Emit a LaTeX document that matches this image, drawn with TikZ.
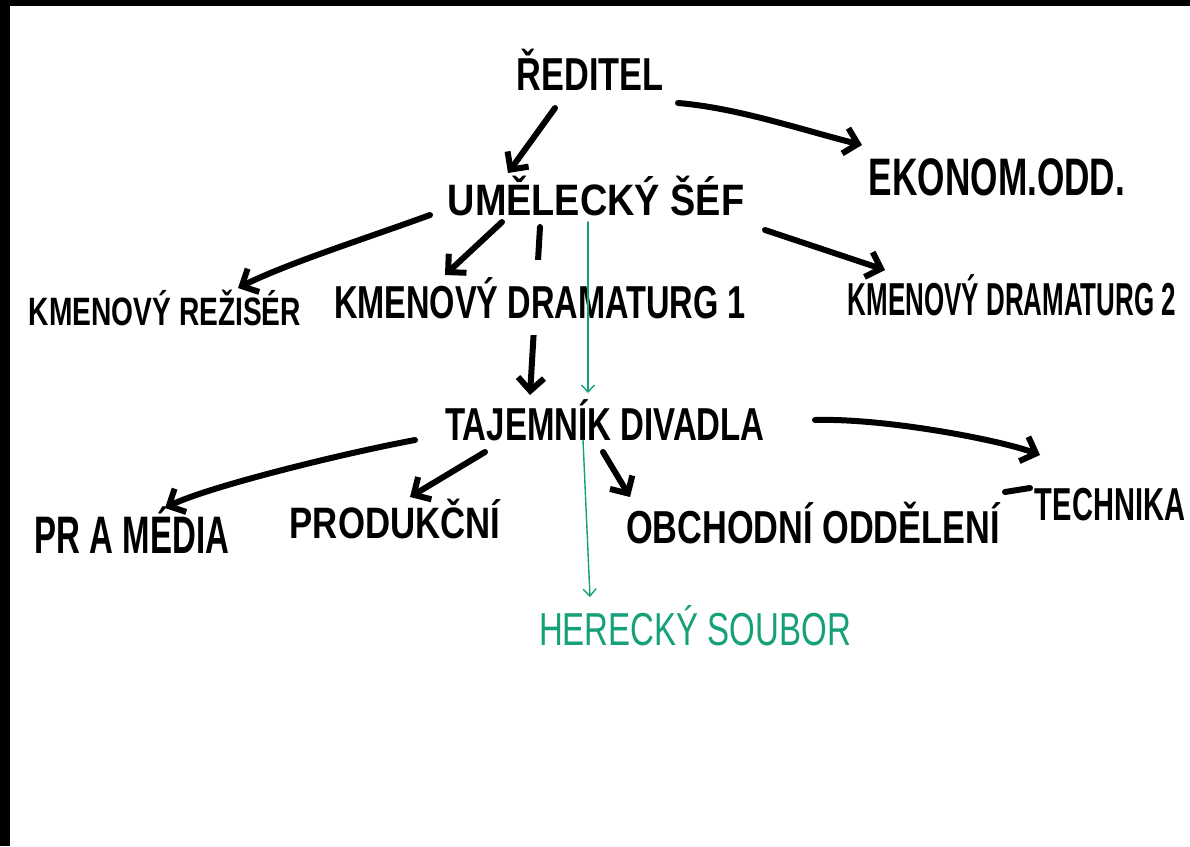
\documentclass[tikz,border=0pt]{standalone}
\usepackage{fontspec}
\setmainfont{Liberation Sans}
\usetikzlibrary{arrows.meta}
\definecolor{pen}{RGB}{22,160,122}
\newcommand\hw[3]{\scalebox{#1}[#2]{#3}}
\tikzset{
  lbl/.style={anchor=base, inner sep=0pt, font=\fontsize{44}{50}\selectfont\bfseries},
  glbl/.style={anchor=base, inner sep=0pt, text=pen, font=\fontsize{44}{50}\selectfont},
  conn/.style={line width=6pt, line cap=round, line join=round,
    -{Straight Barb[length=13pt,width=26pt,line width=6pt]}},
  gconn/.style={draw=pen, line width=1.4pt, line cap=round,
    -{Straight Barb[length=7pt,width=13pt,line width=1.4pt]}},
  plain/.style={line width=6pt, line cap=round}
}
\begin{document}
\begin{tikzpicture}[x=1pt,y=-1pt]
\useasboundingbox (0,0) rectangle (1190,846);
\fill[black] (0,0) rectangle (1190,846);
\fill[white] (10,6) rectangle (1190,846);

% nodes that are needed before the hidden black connector
\node[lbl] (umelecky) at (596,215) {\hw{0.86}{1.0}{UMĚLECKÝ ŠÉF}};
\node[lbl] (tajemnik) at (605,440) {\hw{0.75}{1.05}{TAJEMNÍK DIVADLA}};

% black connector passing behind KMENOVÝ DRAMATURG 1
\draw[conn] ([shift={(-56,12)}]umelecky.base) -- ([shift={(-75,-45)}]tajemnik.base);

\node[lbl] (reditel) at (590,90) {\hw{0.78}{1.05}{ŘEDITEL}};
\node[lbl] (ekonom) at (997,195) {\hw{0.80}{1.2}{EKONOM.ODD.}};
\node[lbl] (rezisér) at (165,325) {\hw{0.64}{0.9}{KMENOVÝ REŽISÉR}};
\node[lbl, fill=white, inner ysep=17pt] (dram1) at (540,318) {\hw{0.74}{1.05}{KMENOVÝ DRAMATURG 1}};
\node[lbl] (dram2) at (1012,315) {\hw{0.59}{1.05}{KMENOVÝ DRAMATURG 2}};
\node[lbl] (pr) at (132,553) {\hw{0.75}{1.2}{PR A MÉDIA}};
\node[lbl] (produkcni) at (395,538) {\hw{0.79}{1.0}{PRODUKČNÍ}};
\node[lbl] (obchodni) at (813,543) {\hw{0.78}{1.05}{OBCHODNÍ ODDĚLENÍ}};
\node[lbl] (technika) at (1110,520) {\hw{0.66}{1.05}{TECHNIKA}};
\node[glbl] (herecky) at (695,645) {\hw{0.75}{1.05}{HERECKÝ SOUBOR}};

% black connectors
\draw[conn] ([shift={(-35,18)}]reditel.base) -- ([shift={(-88,-42)}]umelecky.base);
\draw[conn] ([shift={(88,13)}]reditel.base) .. controls +(60,5) and +(-60,-15) .. ([shift={(-135,-50)}]ekonom.base);
\draw[conn] ([shift={(-166,0)}]umelecky.base) .. controls +(-60,22) and +(50,-25) .. ([shift={(73,-37)}]rezisér.base);
\draw[conn] ([shift={(-94,7)}]umelecky.base) -- ([shift={(-95,-43)}]dram1.base);
\draw[conn] ([shift={(169,15)}]umelecky.base) -- ([shift={(-127,-45)}]dram2.base);
\draw[conn] ([shift={(-190,0)}]tajemnik.base) .. controls +(-80,15) and +(40,-20) .. ([shift={(33,-45)}]pr.base);
\draw[conn] ([shift={(-120,12)}]tajemnik.base) -- ([shift={(15,-41)}]produkcni.base);
\draw[conn] ([shift={(-2,12)}]tajemnik.base) -- ([shift={(-183,-46)}]obchodni.base);
\draw[conn] ([shift={(210,-20)}]tajemnik.base) .. controls +(70,-2) and +(-40,-15) .. ([shift={(-70,-65)}]technika.base);
\draw[plain] ([shift={(192,-51)}]obchodni.base) -- ([shift={(217,-55)}]obchodni.base);

% green connectors
\draw[gconn] ([shift={(-8,7)}]umelecky.base) -- ([shift={(-17,-47)}]tajemnik.base);
\draw[gconn] ([shift={(-22,0)}]tajemnik.base) -- ([shift={(-105,-48)}]herecky.base);
\end{tikzpicture}
\end{document}
